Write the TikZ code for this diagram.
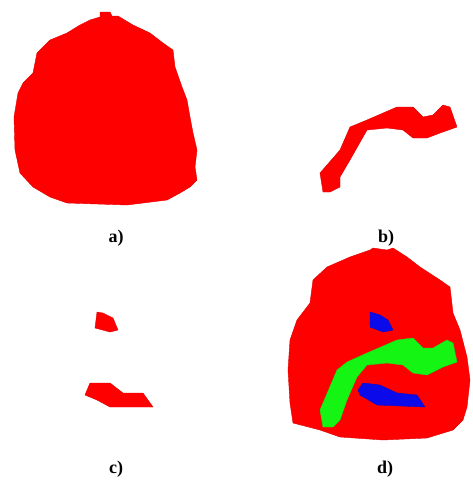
\documentclass[tikz,border=0pt]{standalone}
\usepackage{fontspec}
\setmainfont{Liberation Serif}
\usepackage{tikz}

\begin{document}
\begin{tikzpicture}[x=1pt,y=-1pt,font=\fontsize{18}{20}\selectfont\bfseries,
 r/.style={fill={rgb,255:red,255;green,0;blue,0},draw={rgb,255:red,225;green,0;blue,0},line width=0.4pt,line join=round},
 g/.style={fill={rgb,255:red,20;green,245;blue,20},draw={rgb,255:red,20;green,225;blue,20},line width=0.4pt,line join=round},
 b/.style={fill={rgb,255:red,10;green,10;blue,235},draw={rgb,255:red,10;green,10;blue,200},line width=0.4pt,line join=round},
 lab/.style={anchor=base,inner sep=0pt}]
\useasboundingbox (0,0) rectangle (473,482);
% a) whole region
\fill[r] (100,12)--(110,12)--(112,16)--(118,16)--(133,25)--(150,33)--(163,43)--(173,50)--(175,67)--(182,87)
 --(187,100)--(190,117)--(193,133)--(197,150)--(195,167)--(197,180)--(190,187)--(180,193)--(167,200)
 --(127,205)--(67,203)--(50,197)--(33,187)--(20,173)--(15,150)--(14,117)--(18,93)--(23,83)--(33,73)
 --(37,53)--(50,40)--(67,33)--(80,25)--(90,20)--(100,17)--cycle;
% b) strip
\fill[r] (323,192)--(320,173)--(340,150)--(350,127)--(367,120)--(397,107)--(413,107)--(423,117)--(433,115)
 --(443,105)--(450,107)--(457,127)--(440,133)--(427,138)--(413,138)--(403,130)--(387,128)--(367,130)
 --(350,160)--(340,177)--(340,187)--(330,192)--cycle;
% c) two pieces
\fill[r] (97,312)--(103,313)--(113,318)--(118,330)--(110,332)--(95,328)--cycle;
\fill[r] (90,383)--(110,383)--(123,393)--(143,393)--(153,407)--(110,407)--(97,400)--(85,395)--cycle;
% d) combined
\fill[r] (373,248)--(387,250)--(393,248)--(407,257)--(420,267)--(440,280)--(450,287)--(453,313)--(460,330)
 --(467,357)--(470,380)--(467,407)--(463,420)--(453,430)--(427,438)--(383,440)--(340,437)--(320,430)
 --(293,423)--(290,403)--(288,370)--(290,340)--(297,320)--(310,303)--(313,280)--(327,267)--(350,257)
 --(370,250)--cycle;
\fill[g] (323,427)--(320,410)--(337,370)--(347,362)--(367,353)--(397,340)--(413,338)--(423,348)--(433,348)
 --(447,340)--(453,343)--(457,362)--(443,367)--(427,375)--(413,373)--(403,365)--(387,363)--(367,365)
 --(357,377)--(347,400)--(340,420)--(333,427)--cycle;
\fill[b] (370,312)--(380,315)--(388,320)--(393,330)--(383,332)--(370,327)--cycle;
\fill[b] (363,383)--(380,385)--(397,393)--(417,395)--(425,407)--(377,405)--(360,395)--(358,390)--cycle;
% labels
\node[lab] (la) at (116,242) {a)};
\node[lab] (lb) at (386,242) {b)};
\node[lab] (lc) at (116,473) {c)};
\node[lab] (ld) at (385,473) {d)};
\end{tikzpicture}
\end{document}
